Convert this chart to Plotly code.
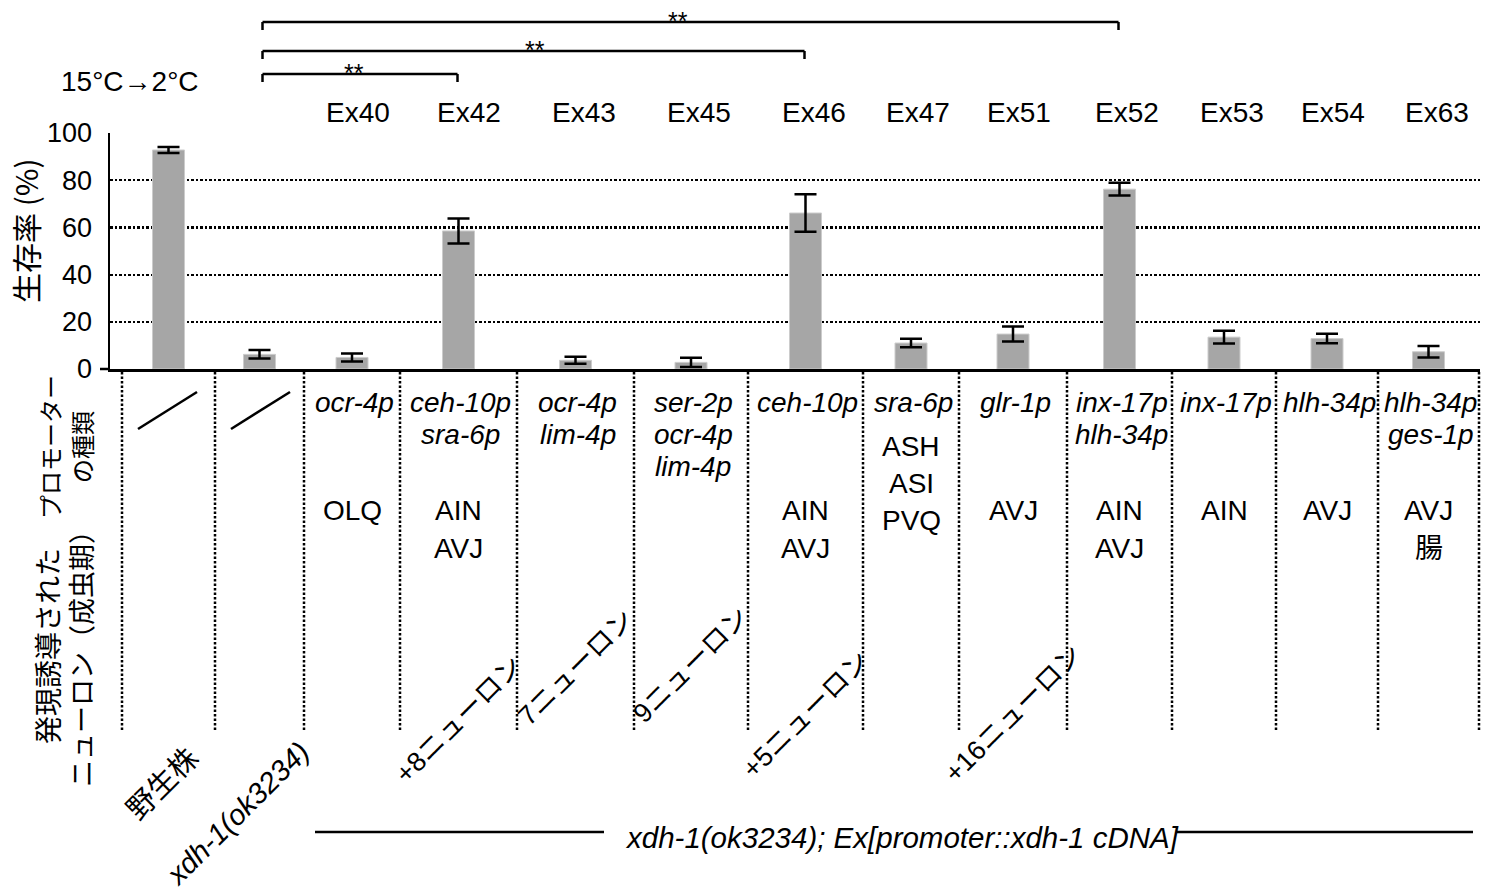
import plotly.graph_objects as go

# ---------------- data ----------------
groups = ["野生株", "xdh-1(ok3234)", "Ex40", "Ex42", "Ex43", "Ex45", "Ex46",
          "Ex47", "Ex51", "Ex52", "Ex53", "Ex54", "Ex63"]
survival = [92.8, 6.2, 4.9, 58.5, 3.7, 2.8, 66.1, 11.0, 14.8, 76.2, 13.5, 12.9, 7.3]
sem = [1.3, 1.8, 1.7, 5.3, 1.5, 2.0, 7.9, 1.8, 3.2, 2.7, 2.7, 2.0, 2.4]
y_ticks = [0, 20, 40, 60, 80, 100]
promoters = [None, None, ["ocr-4p"], ["ceh-10p", "sra-6p"], ["ocr-4p", "lim-4p"],
             ["ser-2p", "ocr-4p", "lim-4p"], ["ceh-10p"], ["sra-6p"], ["glr-1p"],
             ["inx-17p", "hlh-34p"], ["inx-17p"], ["hlh-34p"], ["hlh-34p", "ges-1p"]]
neurons = [None, None, ["OLQ"], ["AIN", "AVJ"], None, None, ["AIN", "AVJ"],
           ["ASH", "ASI", "PVQ"], ["AVJ"], ["AIN", "AVJ"], ["AIN"], ["AVJ"], ["AVJ", "腸"]]
neuron_counts = [None, None, None, "+8ニューロン", "7ニューロン", "9ニューロン",
                 "+5ニューロン", None, "+16ニューロン", None, None, None, None]
comparisons = [("xdh-1(ok3234)", "Ex42", "**"),
               ("xdh-1(ok3234)", "Ex46", "**"),
               ("xdh-1(ok3234)", "Ex52", "**")]
condition = "15°C→2°C"
y_title = "生存率 (%)"
promoter_title = ["プロモーター", "の種類"]
neuron_title = ["発現誘導された", "ニューロン（成虫期）"]
bottom_label = "xdh-1(ok3234); Ex[promoter::xdh-1 cDNA]"

# ---------------- layout (pixel geometry) ----------------
W, H = 1496, 894
L, R, T, B = 110, 1480, 133, 369
COL_EDGES = [122, 215, 304, 400, 517, 634, 748, 863, 959, 1067, 1172, 1276, 1378, 1479]
centers = [(COL_EDGES[i] + COL_EDGES[i + 1]) / 2 for i in range(len(groups))]
EX_LABEL_X = [358, 469, 584, 699, 814, 918, 1019, 1127, 1232, 1333, 1437]
COUNT_Y = [None, None, None, 720, 668, 665, 715, None, 714, None, None, None, None]
GROUP_LABEL_POS = [(160, 782), (237, 814)]
BRACKET_Y = [74, 51, 22]
STAR_X = [354, 535, 678]
LATIN = "Liberation Sans, Arial, Noto Sans CJK JP, sans-serif"
CJK = "Noto Sans CJK JP, Liberation Sans, sans-serif"


def xp(px):
    return (px - L) / (R - L)


def yp(py):
    return (B - py) / (B - T)


fig = go.Figure()
fig.add_trace(go.Bar(
    x=centers, y=survival, width=32,
    marker=dict(color="#a6a6a6", line=dict(color="#cccccc", width=1)),
    error_y=dict(type="data", array=sem, visible=True, color="black",
                 thickness=2.5, width=11),
    hoverinfo="skip",
))

shapes = []
annotations = []


def line(x0, y0, x1, y1, w=2.5, dash=None):
    d = dict(type="line", xref="paper", yref="paper",
             x0=xp(x0), y0=yp(y0), x1=xp(x1), y1=yp(y1),
             line=dict(color="black", width=w))
    if dash:
        d["line"]["dash"] = dash
    shapes.append(d)


def text(px, py, s, size=28, font=LATIN, angle=0, xanchor="center"):
    annotations.append(dict(xref="paper", yref="paper", x=xp(px), y=yp(py),
                            text=s, showarrow=False, textangle=angle,
                            xanchor=xanchor, yanchor="middle",
                            font=dict(size=size, family=font, color="black")))


# x axis extension to the left
line(100, B, L, B, w=2.5)

# dotted column separators
for e in COL_EDGES:
    line(e, 372, e, 730, w=2.5, dash="2.5px,2px")

# slashes in first two columns
for i in range(2):
    line(COL_EDGES[i] + 16, 429, COL_EDGES[i] + 75, 392, w=2.5)

# significance brackets
for (a, b, star), by, sx in zip(comparisons, BRACKET_Y, STAR_X):
    xa = centers[groups.index(a)] + 3
    xb = centers[groups.index(b)] - 1
    line(xa, by + 8, xa, by, w=2.5)
    line(xa, by, xb, by, w=2.5)
    line(xb, by, xb, by + 8, w=2.5)
    text(sx, by - 1, star, size=25)

# condition label
text(130, 82, condition, size=28)

# Ex labels
for lab, lx in zip(groups[2:], EX_LABEL_X):
    text(lx, 112, lab, size=28)

# y-axis title
text(25, 231, y_title, size=30, font=CJK, angle=-90)

# left side titles
text(49, 447, promoter_title[0], size=24, font=CJK, angle=-90)
text(81, 447, promoter_title[1], size=24, font=CJK, angle=-90)
text(47, 646, neuron_title[0], size=28, font=CJK, angle=-90)
text(80, 652, neuron_title[1], size=27, font=CJK, angle=-90)

# promoters
for i, plist in enumerate(promoters):
    if not plist:
        continue
    for j, p in enumerate(plist):
        text(centers[i] + 2, 402 + 32 * j, "<i>" + p + "</i>", size=28)

# neurons
for i, nlist in enumerate(neurons):
    if not nlist:
        continue
    y0, dy = (446, 37) if len(nlist) == 3 else (510, 38)
    for j, n in enumerate(nlist):
        text(centers[i], y0 + dy * j, n, size=28)

# neuron counts (rotated)
for i, c in enumerate(neuron_counts):
    if c:
        text(centers[i], COUNT_Y[i], c, size=27, angle=-45)

# group labels
text(GROUP_LABEL_POS[0][0], GROUP_LABEL_POS[0][1], groups[0], size=29, font=CJK, angle=-45)
text(GROUP_LABEL_POS[1][0], GROUP_LABEL_POS[1][1], "<i>" + groups[1] + "</i>", size=29, angle=-45)

# bottom construct label
line(315, 832, 604, 832, w=2.5)
line(1177, 832, 1473, 832, w=2.5)
text(902, 837, "<i>" + bottom_label + "</i>", size=29.5)

fig.update_layout(
    width=W, height=H,
    margin=dict(l=L, r=W - R, t=T, b=H - B, pad=0),
    paper_bgcolor="white", plot_bgcolor="white",
    showlegend=False,
    shapes=shapes, annotations=annotations,
    xaxis=dict(range=[L, R], showline=True, linecolor="black", linewidth=2.5,
               showticklabels=False, showgrid=False, zeroline=False, ticks="",
               fixedrange=True),
    yaxis=dict(range=[0, 100], tickvals=y_ticks, showline=True, linecolor="black",
               linewidth=2.5, showgrid=True, gridcolor="black", gridwidth=2.2,
               griddash="2.5px,2px", zeroline=False, ticks="",
               ticklabelstandoff=10,
               tickfont=dict(size=27, family=LATIN, color="black"),
               fixedrange=True),
)

fig.write_html("out.html", include_plotlyjs=True,
               config={"displayModeBar": False, "staticPlot": True},
               post_script="document.body.style.margin='0px';")
